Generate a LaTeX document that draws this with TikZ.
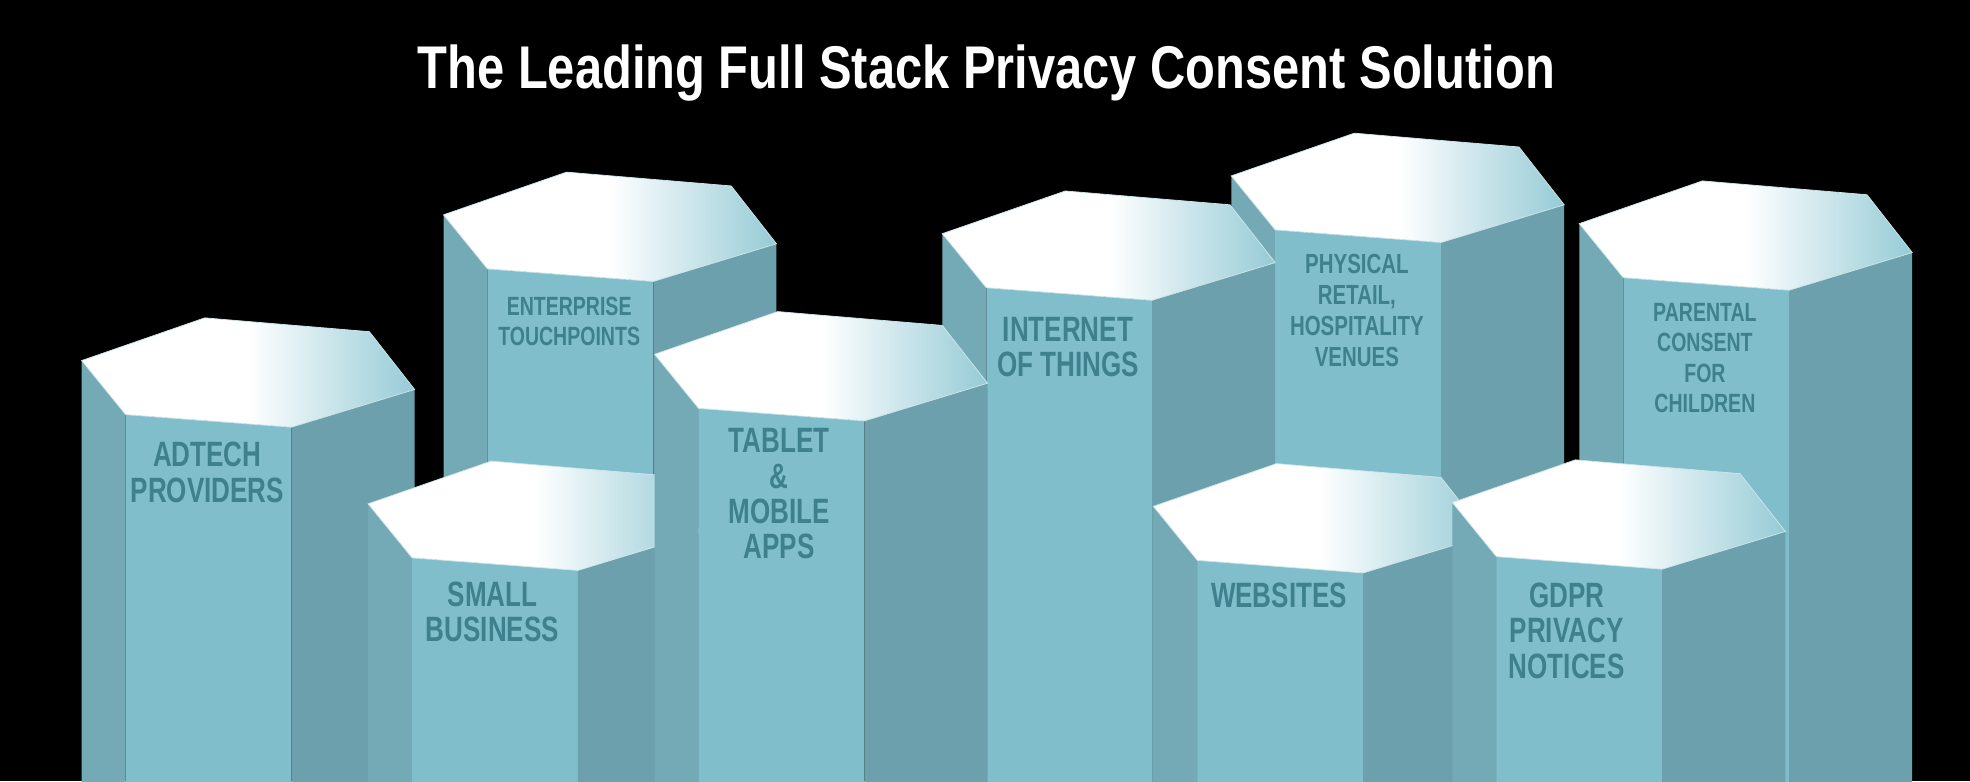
\documentclass[tikz,border=0pt]{standalone}
\usepackage{fontspec}
\setmainfont{Liberation Sans}[FakeStretch=0.81]
\newfontfamily\lblfont{Liberation Sans}[FakeStretch=0.74]
\definecolor{frontc}{RGB}{128,190,203}
\definecolor{leftc}{RGB}{115,170,182}
\definecolor{rightc}{RGB}{108,160,172}
\definecolor{topc}{RGB}{150,203,214}
\definecolor{txtc}{RGB}{62,128,142}
\newcommand\pillar[2]{%
\begin{scope}[shift={(#1,#2)}]
\fill[leftc] (0,0) -- (35,43) -- (35,800) -- (0,800) -- cycle;
\fill[frontc] (35,43) -- (167,53) -- (167,800) -- (35,800) -- cycle;
\fill[rightc] (167,53) -- (265,23) -- (265,800) -- (167,800) -- cycle;
\shade[left color=white,right color=topc,middle color=white] (0,0) -- (98,-34) -- (229,-23) -- (265,23) -- (167,53) -- (35,43) -- cycle;
\draw[white!60!frontc,line width=0.6pt] (0,0) -- (98,-34) -- (229,-23) -- (265,23) -- (167,53) -- (35,43) -- cycle;
\end{scope}}
\tikzset{lbl/.style={text=txtc,font=\lblfont\bfseries,align=center,inner sep=0pt}}
\begin{document}
\begin{tikzpicture}[x=1pt,y=-1pt]
\fill[black] (0,0) rectangle (1568,622);
\useasboundingbox (0,0) rectangle (1568,622);
\clip (0,0) rectangle (1568,622);
\node[text=white,font=\bfseries\fontsize{48}{50}\selectfont] (title) at (785,58) {The Leading Full Stack Privacy Consent Solution};
\pillar{353}{171}
\node[lbl,font=\lblfont\bfseries\fontsize{21}{24}\selectfont] (ent) at (453,256) {ENTERPRISE\\TOUCHPOINTS};
\pillar{65}{287}
\node[lbl,font=\lblfont\bfseries\fontsize{28}{28}\selectfont] (ad) at (165,376) {ADTECH\\PROVIDERS};
\pillar{980}{140}
\node[lbl,font=\lblfont\bfseries\fontsize{22}{24.5}\selectfont] (phy) at (1080,247) {PHYSICAL\\RETAIL,\\HOSPITALITY\\VENUES};
\pillar{1257}{178}
\node[lbl,font=\lblfont\bfseries\fontsize{21}{24}\selectfont] (par) at (1357,285) {PARENTAL\\CONSENT\\FOR\\CHILDREN};
\pillar{750}{186}
\node[lbl,font=\lblfont\bfseries\fontsize{28}{28}\selectfont] (iot) at (850,276) {INTERNET\\OF THINGS};
\pillar{293}{401}
\node[lbl,font=\lblfont\bfseries\fontsize{28}{28}\selectfont] (sb) at (392,487) {SMALL\\BUSINESS};
\pillar{521}{282}
\node[lbl,font=\lblfont\bfseries\fontsize{28}{28}\selectfont] (tab) at (620,393) {TABLET\\\&\\MOBILE\\APPS};
\pillar{918}{403}
\node[lbl,font=\lblfont\bfseries\fontsize{28}{28}\selectfont] (web) at (1018,474) {WEBSITES};
\pillar{1156}{400}
\node[lbl,font=\lblfont\bfseries\fontsize{28}{28}\selectfont] (gdpr) at (1247,502) {GDPR\\PRIVACY\\NOTICES};
\end{tikzpicture}
\end{document}
